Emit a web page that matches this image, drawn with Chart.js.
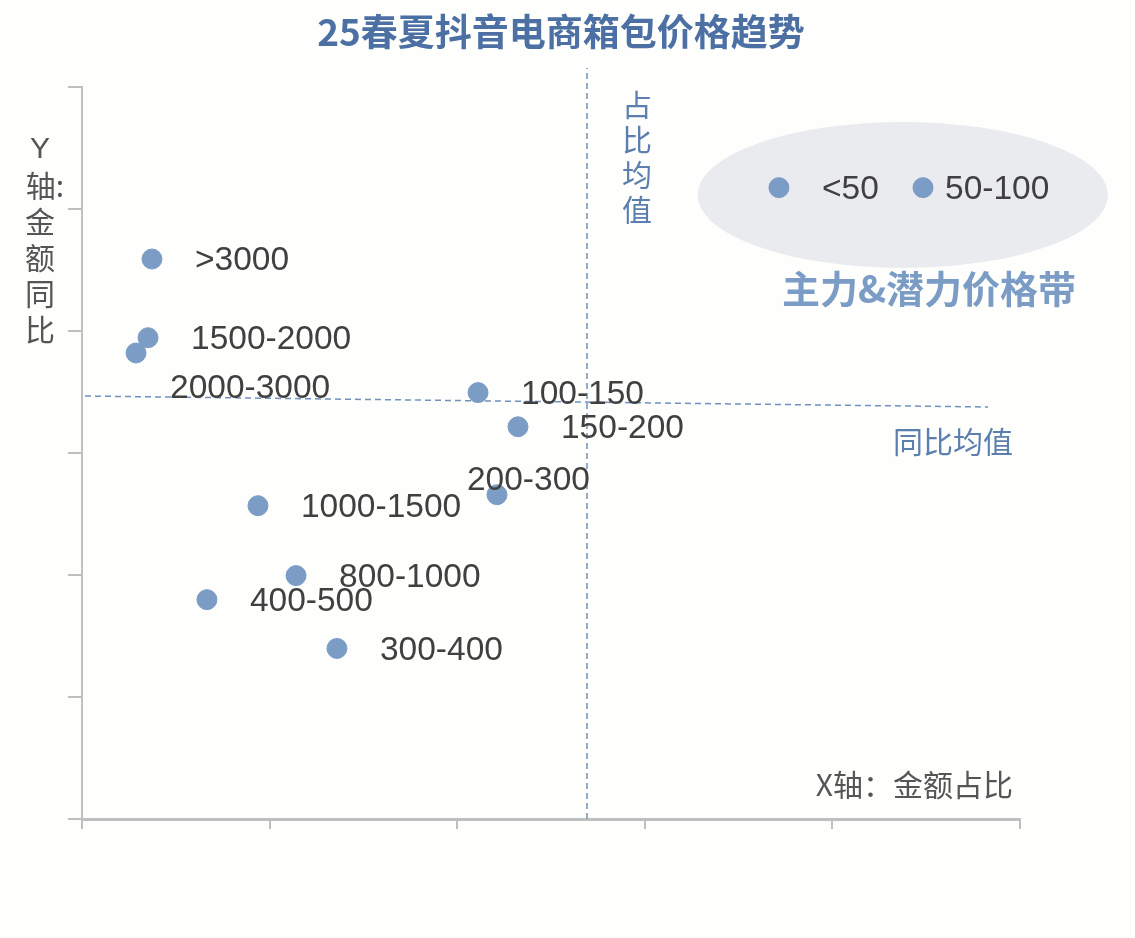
<!DOCTYPE html>
<html>
<head>
<meta charset="utf-8">
<script src="https://cdn.jsdelivr.net/npm/chart.js@4.4.1/dist/chart.umd.min.js"></script>
<style>
  html, body { margin: 0; padding: 0; background: #fefefc; }
  #wrap { width: 1135px; height: 938px; position: relative; }
</style>
</head>
<body>
<div id="wrap"><canvas id="chart"></canvas></div>
<script>
// price bands and their values (x: 金额占比, y: 金额同比, arbitrary units)
const bands = ['<50', '50-100', '>3000', '1500-2000', '2000-3000', '100-150', '150-200', '200-300', '1000-1500', '800-1000', '400-500', '300-400'];
const shareX = [3.715, 4.483, 0.373, 0.352, 0.288, 2.111, 2.324, 2.212, 0.938, 1.141, 0.666, 1.359];
const yoyY = [5.175, 5.175, 4.59, 3.945, 3.82, 3.495, 3.215, 2.658, 2.568, 1.995, 1.798, 1.398];

// average reference lines
const avgShareX = [2.692, 2.692];
const avgShareY = [0, 6.155];
const avgYoyX = [0.016, 4.83];
const avgYoyY = [3.467, 3.377];

const BLUE = '#7b9cc4';
const TEXT_BLUE = '#5b7fae';
const GREY = '#bfbfbf';
const LATIN = '"Liberation Sans", Arial, sans-serif';
const CJK = '"Noto Sans CJK SC", "Liberation Sans", sans-serif';

// label nudges for crowded points (pixels)
const labelNudge = {
    '2000-3000': [34, 34],
    '200-300': [-30, -16],
    '50-100': [22, 0]
};

const decorPlugin = {
    id: 'decor',
    beforeDatasetsDraw(chart) {
        const { ctx, scales: { x, y } } = chart;
        // grey ellipse behind the top-right points
        ctx.save();
        ctx.fillStyle = '#e9ebef';
        ctx.beginPath();
        ctx.ellipse(x.getPixelForValue(4.375), y.getPixelForValue(5.115),
            x.getPixelForValue(4.375) - x.getPixelForValue(3.282),
            y.getPixelForValue(5.115) - y.getPixelForValue(5.713), 0, 0, Math.PI * 2);
        ctx.fill();
        ctx.restore();
    },
    afterDatasetsDraw(chart) {
        const { ctx } = chart;
        const meta = chart.getDatasetMeta(0);
        ctx.save();
        ctx.font = '33.5px ' + LATIN;
        ctx.fillStyle = '#404040';
        ctx.textBaseline = 'middle';
        ctx.textAlign = 'left';
        meta.data.forEach((pt, i) => {
            const n = labelNudge[bands[i]] || [43, 0];
            ctx.fillText(bands[i], pt.x + n[0], pt.y + n[1] + 2);
        });

        // title
        ctx.textAlign = 'center';
        ctx.fillStyle = '#4c70a4';
        ctx.font = 'bold 37px ' + CJK;
        ctx.fillText('25春夏抖音电商箱包价格趋势', 561, 32);

        // 主力&潜力价格带
        ctx.fillStyle = '#7b9cc4';
        ctx.font = 'bold 38px ' + CJK;
        ctx.fillText('主力&潜力价格带', 929, 289);

        // 占比均值 (vertical)
        ctx.fillStyle = TEXT_BLUE;
        ctx.font = '30px ' + CJK;
        '占比均值'.split('').forEach((c, i) => ctx.fillText(c, 637, 105 + i * 35));
        // 同比均值
        ctx.fillText('同比均值', 953, 442);

        // axis titles
        ctx.fillStyle = '#555555';
        ctx.textAlign = 'right';
        ctx.fillText('X轴：金额占比', 1013, 785);
        ctx.textAlign = 'center';
        ['Y', '轴:', '金', '额', '同', '比'].forEach((c, i) => {
            ctx.font = (i === 0 ? '30px ' + LATIN : '30px ' + CJK);
            ctx.fillText(c, i === 1 ? 45 : 40, 150 + i * 36);
        });
        ctx.restore();
    }
};

new Chart(document.getElementById('chart'), {
    type: 'scatter',
    data: {
        datasets: [{
            data: shareX.map((v, i) => ({ x: v, y: yoyY[i] })),
            backgroundColor: BLUE,
            borderColor: BLUE,
            pointRadius: 10,
            pointHoverRadius: 10
        }, {
            type: 'line',
            data: avgShareX.map((v, i) => ({ x: v, y: avgShareY[i] })),
            borderColor: '#6f91bd',
            borderWidth: 1.5,
            borderDash: [6, 4],
            pointRadius: 0,
            clip: false
        }, {
            type: 'line',
            data: avgYoyX.map((v, i) => ({ x: v, y: avgYoyY[i] })),
            borderColor: '#6f91bd',
            borderWidth: 1.5,
            borderDash: [6, 4],
            pointRadius: 0,
            clip: false
        }]
    },
    options: {
        responsive: true,
        maintainAspectRatio: false,
        animation: false,
        layout: { padding: { left: 68, right: 115, top: 87, bottom: 109 } },
        plugins: { legend: { display: false }, tooltip: { enabled: false } },
        scales: {
            x: {
                type: 'linear', min: 0, max: 5,
                ticks: { display: false, stepSize: 1 },
                grid: { drawOnChartArea: false, color: GREY, tickLength: 10, lineWidth: 2 },
                border: { color: GREY, width: 3 }
            },
            y: {
                type: 'linear', min: 0, max: 6,
                ticks: { display: false, stepSize: 1 },
                grid: { drawOnChartArea: false, color: GREY, tickLength: 14, lineWidth: 2 },
                border: { color: GREY, width: 2 }
            }
        }
    },
    plugins: [decorPlugin]
});
</script>
</body>
</html>
